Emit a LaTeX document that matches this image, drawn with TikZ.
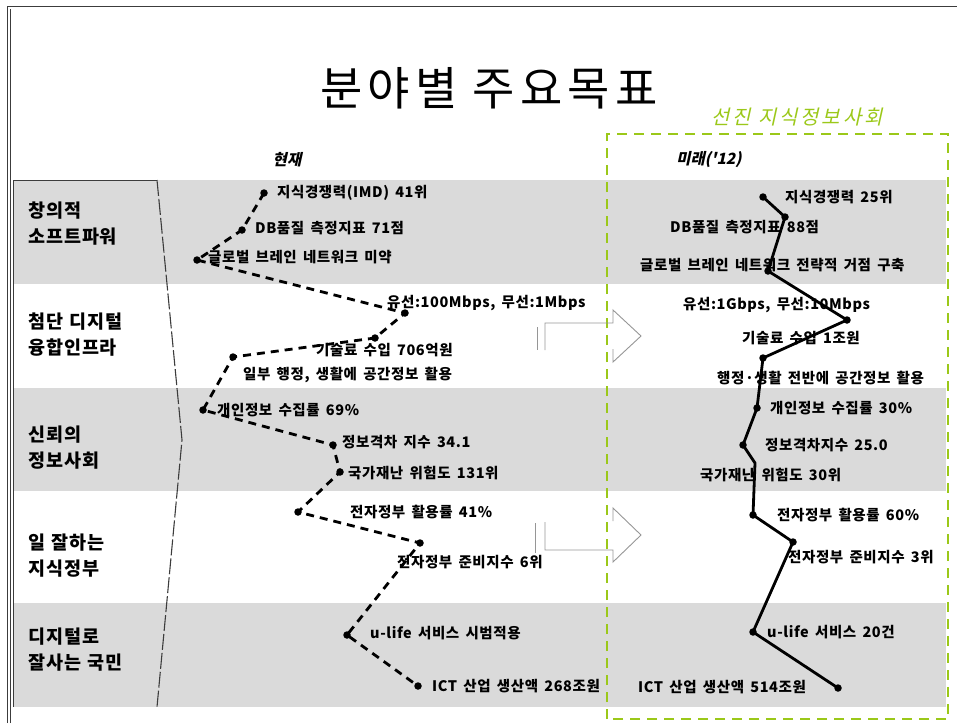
\documentclass[tikz,border=0pt]{standalone}
\usepackage{fontspec}
\setmainfont{Noto Sans CJK KR}
\newfontfamily\krsl[FakeSlant=0.22]{Noto Sans CJK KR}
\newfontfamily\krdat[LetterSpace=4,WordSpace=1.6]{Noto Sans CJK KR}
\newfontfamily\krlbl[LetterSpace=5,WordSpace=1.3]{Noto Sans CJK KR}
\usetikzlibrary{calc}
\definecolor{bandgray}{RGB}{218,218,218}
\definecolor{lgreen}{RGB}{155,200,25}
\definecolor{arrgray}{RGB}{150,150,150}
\definecolor{framegray}{RGB}{60,60,60}
\tikzset{
  dotnode/.style={circle, fill=black, inner sep=0pt, minimum size=7.5pt},
  nowline/.style={line width=2.8pt, dash pattern=on 8pt off 6pt},
  futline/.style={line width=2.8pt, line join=round},
  dat/.style={anchor=west, inner sep=0pt, font=\fontsize{14.5}{17}\krdat\bfseries},
  lbl/.style={anchor=west, inner sep=0pt, align=left, font=\fontsize{18.5}{26}\krlbl\bfseries},
  hdr/.style={inner sep=0pt, font=\fontsize{15.5}{18}\selectfont\bfseries\krsl},
  hollowarr/.style={draw=arrgray, line width=0.9pt, line join=miter},
}
\begin{document}
\begin{tikzpicture}[x=1pt,y=-1pt]
\useasboundingbox (0,0) rectangle (957,723);
% bands
\fill[bandgray] (13,180) rectangle (946,284);
\fill[bandgray] (13,388) rectangle (946,491);
\fill[bandgray] (13,603) rectangle (946,707);
% outer frame
\draw[framegray, line width=1pt] (7,723) -- (7,6) -- (957,6);
\draw[framegray, line width=0.8pt] (10.5,723) -- (10.5,9);
% label column
\draw[framegray, line width=0.8pt] (13,707) -- (13,180) -- (157,180);
\coordinate (bt) at (157,180);
\coordinate (bm) at (182,440);
\coordinate (bb) at (157,707);
\draw[framegray, line width=1.1pt, dash pattern=on 16pt off 3pt] (bt) -- (bm) -- (bb);
% title
\node (title) at (489,88) {\fontsize{46}{50}\selectfont\addfontfeatures{LetterSpace=11}분야별 주요목표};
\node[text=lgreen, font=\fontsize{20}{24}\selectfont\krsl\addfontfeatures{LetterSpace=14}] (goal) at (797,117) {선진 지식정보사회};
\draw[lgreen, line width=2.6pt, dash pattern=on 10pt off 7pt] (607,719) -- (607,134) -- (948,134) -- (948,719) -- cycle;
\node[hdr] (now) at (287,160) {현재};
\node[hdr] (fut) at (709,160) {미래('12)};
% labels
\node[lbl] (l1) at (28,224) {창의적\\소프트파워};
\node[lbl] (l2) at (28,335) {첨단 디지털\\융합인프라};
\node[lbl] (l3) at (28,448) {신뢰의\\정보사회};
\node[lbl] (l4) at (28,556) {일 잘하는\\지식정부};
\node[lbl] (l5) at (28,650) {디지털로\\잘사는 국민};
% hollow arrows
\draw[hollowarr] (537,327) -- (537,350);
\draw[hollowarr] (545,350) -- (545,323) -- (613,323) -- (613,310) -- (641,336) -- (613,362) -- (613,349);
\draw[hollowarr] (535,523) -- (535,553);
\draw[hollowarr] (545,522) -- (545,550) -- (613,550) -- (613,562) -- (641,535) -- (613,508) -- (613,521);
% current path
\node[dotnode] (a1) at (264,193) {};
\node[dotnode] (a2) at (242,230) {};
\node[dotnode] (a3) at (197,260) {};
\node[dotnode] (a4) at (405,313) {};
\node[dotnode] (a5) at (375,338) {};
\node[dotnode] (a6) at (233,357) {};
\node[dotnode] (a7) at (203,410) {};
\node[dotnode] (a8) at (333,445) {};
\node[dotnode] (a9) at (340,472) {};
\node[dotnode] (a10) at (298,512) {};
\node[dotnode] (a11) at (420,543) {};
\node[dotnode] (a12) at (347,635) {};
\node[dotnode] (a13) at (418,686) {};
\draw[nowline] (a1.center) -- (a2.center) -- (a3.center) -- (a4.center) -- (a5.center) -- (a6.center) -- (a7.center) -- (a8.center) -- (a9.center) -- (a10.center) -- (a11.center) -- (a12.center) -- (a13.center);
% future path
\node[dotnode] (b1) at (763,197) {};
\node[dotnode] (b2) at (785,217) {};
\node[dotnode] (b3) at (768,271) {};
\node[dotnode] (b4) at (847,320) {};
\node[dotnode] (b5) at (763,358) {};
\node[dotnode] (b6) at (757,408) {};
\node[dotnode] (b7) at (743,445) {};
\coordinate (b8) at (755,463);
\node[dotnode] (b9) at (753,515) {};
\node[dotnode] (b10) at (793,542) {};
\node[dotnode] (b11) at (753,632) {};
\node[dotnode] (b12) at (838,688) {};
\draw[futline] (b1.center) -- (b2.center) -- (b3.center) -- (b4.center) -- (b5.center) -- (b6.center) -- (b7.center) -- (b8) -- (b9.center) -- (b10.center) -- (b11.center) -- (b12.center);
% current texts
\node[dat] (t1) at (277,193) {지식경쟁력(IMD) 41위};
\node[dat] (t2) at (255,228) {DB품질 측정지표 71점};
\node[dat] (t3) at (208,257) {글로벌 브레인 네트워크 미약};
\node[dat] (t4) at (387,303) {유선:100Mbps, 무선:1Mbps};
\node[dat] (t5) at (316,350) {기술료 수입 706억원};
\node[dat] (t6) at (243,375) {일부 행정, 생활에 공간정보 활용};
\node[dat] (t7) at (217,410) {개인정보 수집률 69\%};
\node[dat] (t8) at (342,442) {정보격차 지수 34.1};
\node[dat] (t9) at (348,473) {국가재난 위험도 131위};
\node[dat] (t10) at (350,512) {전자정부 활용률 41\%};
\node[dat] (t11) at (397,562) {전자정부 준비지수 6위};
\node[dat] (t12) at (370,633) {u-life 서비스 시범적용};
\node[dat] (t13) at (432,686) {ICT 산업 생산액 268조원};
% future texts
\node[dat] (r1) at (785,197) {지식경쟁력 25위};
\node[dat] (r2) at (670,227) {DB품질 측정지표 88점};
\node[dat] (r3) at (640,265) {글로벌 브레인 네트워크 전략적 거점 구축};
\node[dat] (r4) at (683,305) {유선:1Gbps, 무선:10Mbps};
\node[dat] (r5) at (742,338) {기술료 수입 1조원};
\node[dat] (r6) at (717,378) {행정·생활 전반에 공간정보 활용};
\node[dat] (r7) at (770,408) {개인정보 수집률 30\%};
\node[dat] (r8) at (765,445) {정보격차지수 25.0};
\node[dat] (r9) at (700,475) {국가재난 위험도 30위};
\node[dat] (r10) at (777,515) {전자정부 활용률 60\%};
\node[dat] (r11) at (788,557) {전자정부 준비지수 3위};
\node[dat] (r12) at (767,632) {u-life 서비스 20건};
\node[dat] (r13) at (638,687) {ICT 산업 생산액 514조원};
\end{tikzpicture}
\end{document}
